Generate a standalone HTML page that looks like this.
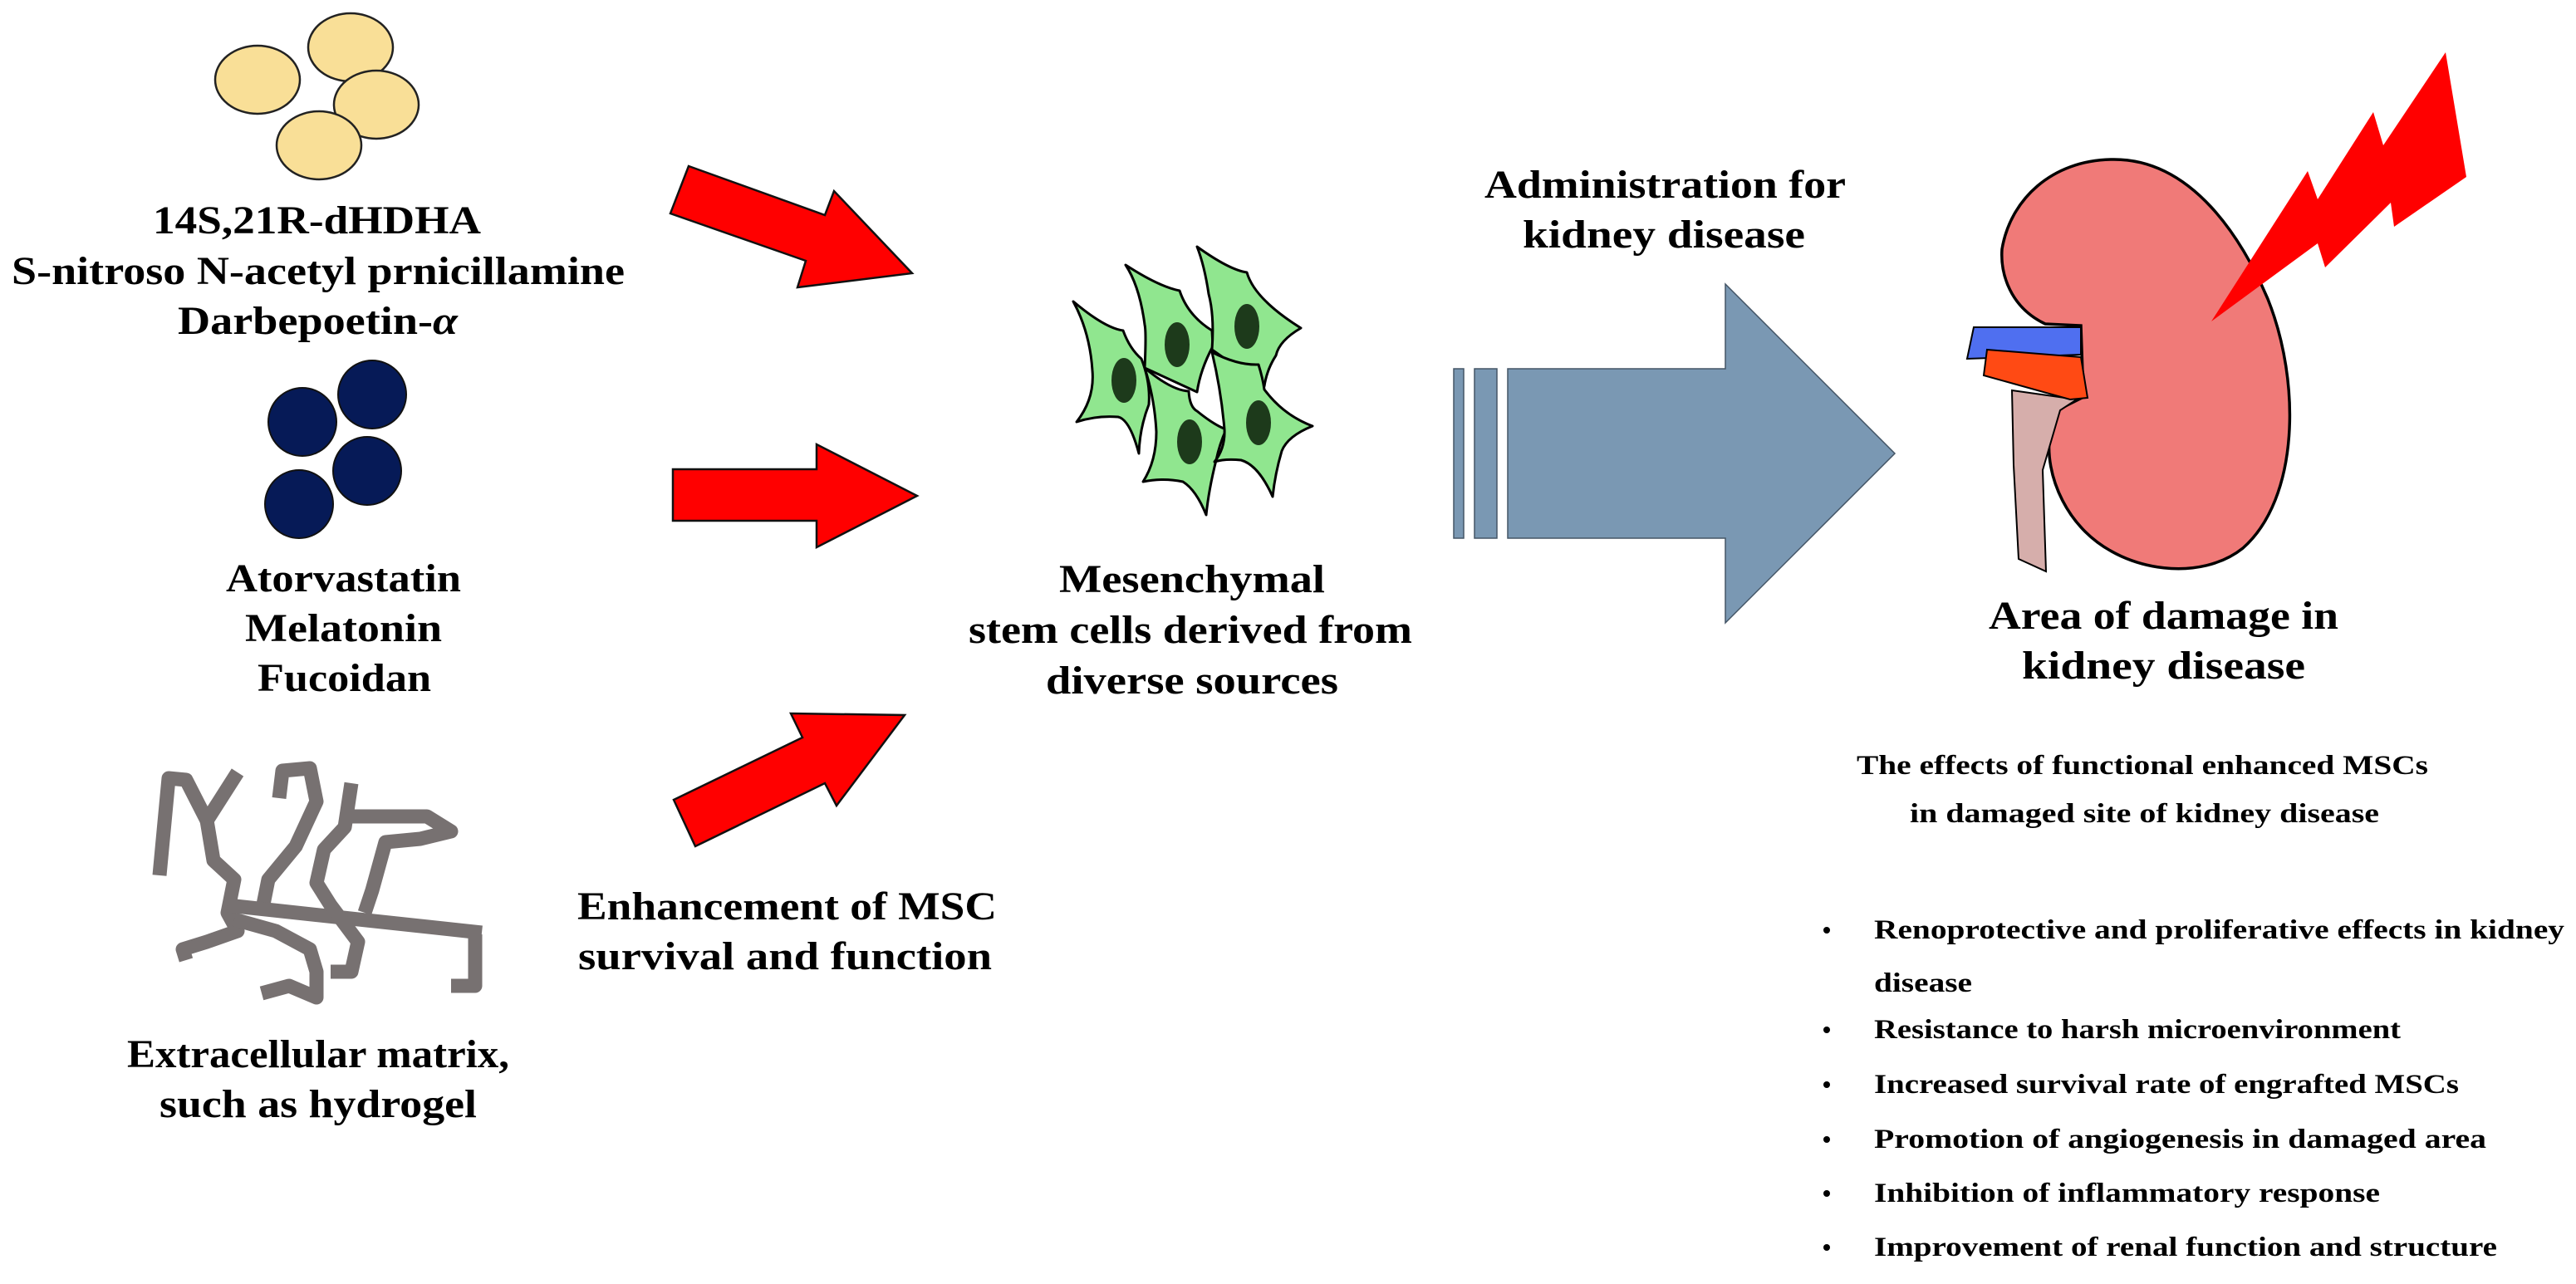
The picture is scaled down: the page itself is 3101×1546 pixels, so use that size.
<!DOCTYPE html>
<html><head><meta charset="utf-8">
<style>
html,body{margin:0;padding:0;background:#fff;}
svg{display:block;}
.t{font-family:"Liberation Serif",serif;font-weight:bold;fill:#000;}
.r{font-family:"Liberation Serif",serif;font-weight:bold;fill:#000;}
</style></head>
<body>
<svg width="3101" height="1546" viewBox="0 0 3101 1546" xmlns="http://www.w3.org/2000/svg">
<rect width="3101" height="1546" fill="#fff"/>

<!-- yellow particles -->
<g fill="#f9df97" stroke="#222" stroke-width="2.5">
<ellipse cx="310" cy="96" rx="51" ry="41"/>
<ellipse cx="422" cy="57" rx="51" ry="41"/>
<ellipse cx="453" cy="126" rx="51" ry="41"/>
<ellipse cx="384" cy="175" rx="51" ry="41"/>
</g>
<text class="t" x="184" y="281" font-size="48" textLength="395" lengthAdjust="spacingAndGlyphs">14S,21R-dHDHA</text>
<text class="t" x="14" y="342" font-size="48" textLength="738" lengthAdjust="spacingAndGlyphs">S-nitroso N-acetyl prnicillamine</text>
<text class="t" x="214" y="402" font-size="48" textLength="337" lengthAdjust="spacingAndGlyphs">Darbepoetin-<tspan font-style="italic">α</tspan></text>

<!-- navy particles -->
<g fill="#061a57" stroke="#111" stroke-width="2">
<circle cx="364" cy="508" r="41"/>
<circle cx="448" cy="475" r="41"/>
<circle cx="442" cy="567" r="41"/>
<circle cx="360" cy="607" r="41"/>
</g>
<text class="t" x="272" y="712" font-size="48" textLength="283" lengthAdjust="spacingAndGlyphs">Atorvastatin</text>
<text class="t" x="295" y="772" font-size="48" textLength="237" lengthAdjust="spacingAndGlyphs">Melatonin</text>
<text class="t" x="310" y="832" font-size="48" textLength="209" lengthAdjust="spacingAndGlyphs">Fucoidan</text>

<!-- hydrogel -->
<g fill="none" stroke="#777171" stroke-width="17" stroke-linecap="butt" stroke-linejoin="round">
<polyline points="192,1054 203,937 224,939 249,988 286,930"/>
<polyline points="249,988 257,1036 282,1059 274,1099 286,1121 249,1134 220,1143 224,1156"/>
<polyline points="336,961 340,928 373,925 381,965 356,1019 323,1059 315,1099"/>
<polyline points="274,1090 580,1123"/>
<polyline points="572,1125 572,1187 543,1187"/>
<polyline points="423,943 415,996 390,1023 381,1063 398,1090 431,1134 423,1170 398,1170"/>
<polyline points="415,983 514,983 543,1001 506,1010 464,1014 448,1072 439,1099"/>
<polyline points="282,1107 332,1121 373,1143 381,1170 381,1201 348,1187 315,1196"/>
</g>
<text class="t" x="153" y="1285" font-size="48" textLength="460" lengthAdjust="spacingAndGlyphs">Extracellular matrix,</text>
<text class="t" x="192" y="1345" font-size="48" textLength="382" lengthAdjust="spacingAndGlyphs">such as hydrogel</text>

<!-- red arrows -->
<g fill="#ff0000" stroke="#111" stroke-width="2.5" stroke-linejoin="miter">
<polygon points="829,200 993,259 1004,230 1098,329 960,346 970,314 807,257"/>
<polygon points="810,565 983,565 983,535 1104,597 983,659 983,627 810,627"/>
<polygon points="811,963 966,888 952,859 1089,861 1007,970 993,943 837,1019"/>
</g>
<text class="t" x="695" y="1107" font-size="48" textLength="505" lengthAdjust="spacingAndGlyphs">Enhancement of MSC</text>
<text class="t" x="696" y="1167" font-size="48" textLength="498" lengthAdjust="spacingAndGlyphs">survival and function</text>

<!-- MSCs -->
<g fill="#90e68f" stroke="#000" stroke-width="3" stroke-linejoin="round">
<path d="M1292,363 Q1330,395 1352,398 Q1360,420 1374,432 Q1385,460 1383,487 Q1372,515 1371,546 Q1360,505 1346,502 Q1320,500 1296,508 Q1318,480 1315,446 Q1312,400 1292,363 Z"/>
<path d="M1355,319 Q1395,345 1420,350 Q1430,380 1459,398 L1460,417 Q1445,445 1441,472 L1378,443 Q1380,400 1378,391 Q1372,345 1355,319 Z"/>
<path d="M1441,297 Q1480,325 1501,328 Q1510,360 1566,395 Q1540,410 1536,428 Q1525,445 1522,465 L1459,421 Q1462,380 1455,354 Q1450,320 1441,297 Z"/>
<path d="M1378,443 Q1410,470 1431,471 Q1432,490 1441,495 Q1462,512 1476,517 Q1468,535 1464,554 Q1455,590 1452,620 Q1440,590 1424,580 Q1400,575 1376,580 Q1392,555 1392,520 Q1390,480 1378,443 Z"/>
<path d="M1459,424 Q1490,440 1515,439 Q1520,455 1522,469 Q1545,500 1580,513 Q1550,525 1543,543 Q1535,570 1532,598 Q1515,560 1494,554 Q1475,552 1462,556 Q1475,540 1474,517 Q1470,470 1459,424 Z"/>
</g>
<g fill="#1d3a1b">
<ellipse cx="1353" cy="458" rx="15" ry="27"/>
<ellipse cx="1417" cy="415" rx="15" ry="27"/>
<ellipse cx="1501" cy="393" rx="15" ry="27"/>
<ellipse cx="1432" cy="532" rx="15" ry="27"/>
<ellipse cx="1515" cy="509" rx="15" ry="27"/>
</g>
<text class="t" x="1275" y="713" font-size="48" textLength="320" lengthAdjust="spacingAndGlyphs">Mesenchymal</text>
<text class="t" x="1166" y="774" font-size="48" textLength="534" lengthAdjust="spacingAndGlyphs">stem cells derived from</text>
<text class="t" x="1259" y="835" font-size="48" textLength="352" lengthAdjust="spacingAndGlyphs">diverse sources</text>

<!-- blue arrow -->
<g fill="#7a98b3" stroke="#445566" stroke-width="1.5">
<rect x="1750" y="444" width="12" height="204"/>
<rect x="1775" y="444" width="27" height="204"/>
<polygon points="1815,444 2077,444 2077,342 2281,546 2077,750 2077,648 1815,648"/>
</g>
<text class="t" x="1787" y="238" font-size="48" textLength="435" lengthAdjust="spacingAndGlyphs">Administration for</text>
<text class="t" x="1833" y="298" font-size="48" textLength="340" lengthAdjust="spacingAndGlyphs">kidney disease</text>

<!-- kidney -->
<path d="M2542,192 C2640,190 2700,290 2730,360 C2770,460 2768,600 2700,660 C2650,700 2560,690 2510,640 C2465,595 2455,525 2480,492 L2508,478 L2505,392 L2462,390 C2420,370 2408,330 2410,300 C2420,240 2470,193 2542,192 Z" fill="#f07a78" stroke="#000" stroke-width="3.5"/>
<polygon points="2422,470 2500,481 2480,494 2459,566 2463,688 2430,673 2424,560" fill="#d6aeab" stroke="#000" stroke-width="2"/>
<polygon points="2376,394 2505,394 2505,427 2368,432" fill="#4f6ff0" stroke="#000" stroke-width="2"/>
<polygon points="2392,421 2505,430 2513,479 2492,481 2388,452" fill="#ff4a14" stroke="#000" stroke-width="2"/>
<polygon points="2662,387 2778,206 2790,240 2857,135 2869,175 2944,63 2969,213 2882,273 2878,244 2799,322 2790,293" fill="#ff0000"/>
<text class="t" x="2394" y="757" font-size="48" textLength="421" lengthAdjust="spacingAndGlyphs">Area of damage in</text>
<text class="t" x="2434" y="817" font-size="48" textLength="341" lengthAdjust="spacingAndGlyphs">kidney disease</text>

<!-- effects text -->
<g class="r" font-size="33">
<text x="2235" y="932" textLength="688" lengthAdjust="spacingAndGlyphs">The effects of functional enhanced MSCs</text>
<text x="2299" y="990" textLength="565" lengthAdjust="spacingAndGlyphs">in damaged site of kidney disease</text>
<text x="2256" y="1130" textLength="831" lengthAdjust="spacingAndGlyphs">Renoprotective and proliferative effects in kidney</text>
<text x="2256" y="1194" textLength="118" lengthAdjust="spacingAndGlyphs">disease</text>
<text x="2256" y="1250" textLength="634" lengthAdjust="spacingAndGlyphs">Resistance to harsh microenvironment</text>
<text x="2256" y="1316" textLength="704" lengthAdjust="spacingAndGlyphs">Increased survival rate of engrafted MSCs</text>
<text x="2256" y="1382" textLength="737" lengthAdjust="spacingAndGlyphs">Promotion of angiogenesis in damaged area</text>
<text x="2256" y="1447" textLength="609" lengthAdjust="spacingAndGlyphs">Inhibition of inflammatory response</text>
<text x="2256" y="1512" textLength="750" lengthAdjust="spacingAndGlyphs">Improvement of renal function and structure</text>
</g>
<g fill="#000">
<circle cx="2199" cy="1120" r="4"/>
<circle cx="2199" cy="1240" r="4"/>
<circle cx="2199" cy="1306" r="4"/>
<circle cx="2199" cy="1372" r="4"/>
<circle cx="2199" cy="1437" r="4"/>
<circle cx="2199" cy="1502" r="4"/>
</g>
</svg>
</body></html>
